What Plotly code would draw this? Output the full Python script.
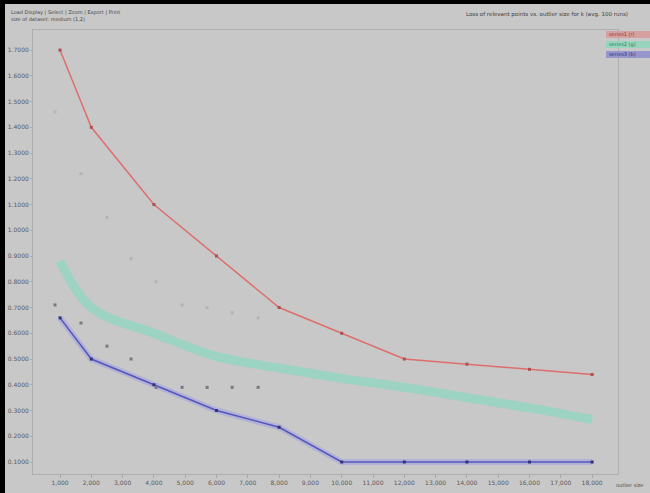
import plotly.graph_objects as go

# ---- data ----
x_main = [1000, 2000, 4000, 6000, 8000, 10000, 12000, 14000, 16000, 18000]
red_vals = [1.70, 1.40, 1.10, 0.90, 0.70, 0.60, 0.50, 0.48, 0.46, 0.44]
green_vals = [0.88, 0.70, 0.60, 0.51, 0.465, 0.425, 0.39, 0.35, 0.31, 0.265]
blue_vals = [0.66, 0.50, 0.40, 0.30, 0.235, 0.10, 0.10, 0.10, 0.10, 0.10]

x_extra = [840, 1670, 2500, 3270, 4070, 4900, 5700, 6500, 7330]
dark_pts = [0.71, 0.64, 0.55, 0.50, 0.39, 0.39, 0.39, 0.39, 0.39]
light_pts = [1.46, 1.22, 1.05, 0.89, 0.80, 0.71, 0.70, 0.68, 0.66]

x_ticks = list(range(1000, 19000, 1000))
y_ticks = [round(0.1 * i, 1) for i in range(1, 18)]

series_names = ["series1 (r)", "series2 (g)", "series3 (b)"]
legend_fill = ["rgb(214,160,160)", "rgb(150,212,190)", "rgb(150,150,205)"]
legend_text = ["rgb(150,50,50)", "rgb(40,130,100)", "rgb(40,40,130)"]

# plot-area geometry in pixels
L, R, T, B = 33, 618, 30, 474
W, H = R - L, B - T

def px(xp):
    return (xp - L) / W

def py(yp):
    return (B - yp) / H

fig = go.Figure()
fig.add_trace(go.Scatter(x=x_main, y=green_vals, mode="lines", name=series_names[1],
                         line=dict(color="rgba(120,220,190,0.55)", width=9, shape="spline")))
fig.add_trace(go.Scatter(x=x_main, y=red_vals, mode="lines+markers", name=series_names[0],
                         line=dict(color="rgb(222,110,110)", width=1.5),
                         marker=dict(size=3, color="rgb(170,80,80)", symbol="square")))
fig.add_trace(go.Scatter(x=x_main, y=blue_vals, mode="lines", showlegend=False,
                         line=dict(color="rgba(150,150,230,0.45)", width=6), hoverinfo="skip"))
fig.add_trace(go.Scatter(x=x_main, y=blue_vals, mode="lines+markers", name=series_names[2],
                         line=dict(color="rgb(85,85,190)", width=1.5),
                         marker=dict(size=3, color="rgb(50,50,120)", symbol="square")))
fig.add_trace(go.Scatter(x=x_extra, y=dark_pts, mode="markers", showlegend=False,
                         marker=dict(size=3, color="rgb(120,120,130)", symbol="square")))
fig.add_trace(go.Scatter(x=x_extra, y=light_pts, mode="markers", showlegend=False,
                         marker=dict(size=3, color="rgb(180,180,180)", symbol="square")))

bg = "rgb(200,200,200)"
fig.update_layout(
    width=650, height=493,
    paper_bgcolor=bg, plot_bgcolor=bg,
    margin=dict(l=L, r=650 - R, t=T, b=493 - B, autoexpand=False),
    font=dict(family="DejaVu Sans", size=6, color="rgb(90,90,90)"),
    xaxis=dict(range=[137, 18827], tickvals=x_ticks,
               ticktext=[f"{v:,}" for v in x_ticks], automargin=False,
               showgrid=False, zeroline=False, showline=True, linecolor="rgb(175,175,175)",
               mirror=True, ticks="outside", ticklen=3, tickcolor="rgb(170,170,170)",
               tickfont=dict(size=6)),
    yaxis=dict(range=[0.0534, 1.778], tickvals=y_ticks,
               ticktext=[f"{v:.4f}" for v in y_ticks], automargin=False,
               showgrid=False, zeroline=False, showline=True, linecolor="rgb(175,175,175)",
               mirror=True, ticks="outside", ticklen=2, tickcolor="rgb(170,170,170)",
               tickfont=dict(size=6)),
    showlegend=False,
)

# black frame on left and top edges
fig.add_shape(type="rect", xref="paper", yref="paper", x0=px(0), x1=px(5), y0=py(493), y1=py(0),
              fillcolor="black", line=dict(width=0), layer="above")
fig.add_shape(type="rect", xref="paper", yref="paper", x0=px(0), x1=px(650), y0=py(4), y1=py(0),
              fillcolor="black", line=dict(width=0), layer="above")

# legend entries drawn at the right edge
for i, (name, fc, tc) in enumerate(zip(series_names, legend_fill, legend_text)):
    top_px = 31 + i * 10
    y1 = py(top_px)
    y0 = py(top_px + 7)
    fig.add_shape(type="rect", xref="paper", yref="paper", x0=px(606), x1=px(650),
                  y0=y0, y1=y1, fillcolor=fc, line=dict(width=0), layer="above")
    fig.add_annotation(xref="paper", yref="paper", x=px(607), y=(y0 + y1) / 2,
                       xanchor="left", yanchor="middle", text=name, showarrow=False,
                       font=dict(size=5, color=tc))

fig.add_annotation(xref="paper", yref="paper", x=px(9), y=py(7), xanchor="left", yanchor="top",
                   text="Load Display | Select | Zoom | Export | Print<br>size of dataset: medium (1,2)",
                   showarrow=False, align="left", font=dict(size=5, color="rgb(70,70,70)"))
fig.add_annotation(xref="paper", yref="paper", x=px(630), y=py(9), xanchor="right", yanchor="top",
                   text="Loss of relevant points vs. outlier size for k (avg. 100 runs)",
                   showarrow=False, font=dict(size=5.5, color="rgb(60,60,60)"))
fig.add_annotation(xref="paper", yref="paper", x=px(614), y=py(480), xanchor="left", yanchor="top",
                   text="outlier size", showarrow=False, font=dict(size=5, color="rgb(70,70,70)"))

post = (
    "document.body.style.margin='0';document.body.style.overflow='hidden';"
    "var f=document.createElement('div');"
    "f.style.cssText='position:absolute;left:0;top:0;width:650px;height:493px;"
    "box-sizing:border-box;border-left:5px solid black;border-top:4px solid black;"
    "pointer-events:none;z-index:1000;';"
    "document.body.appendChild(f);"
)
fig.write_html("out.html", post_script=post, config={"displayModeBar": False})
